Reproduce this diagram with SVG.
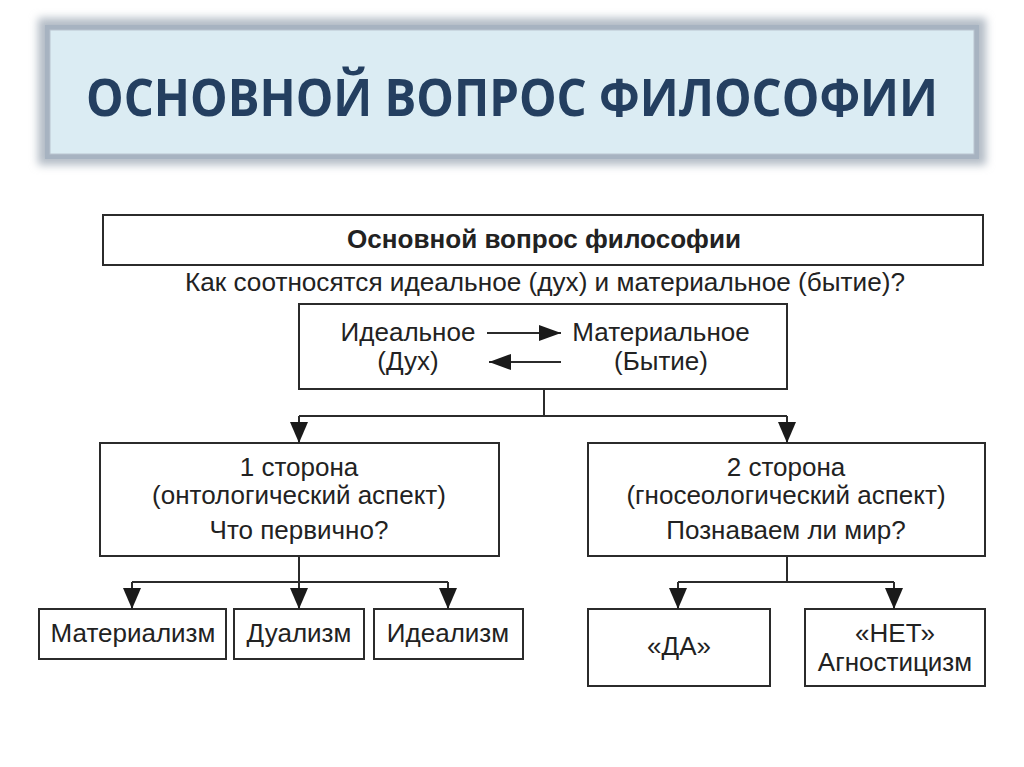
<svg xmlns="http://www.w3.org/2000/svg" width="1024" height="767" viewBox="0 0 1024 767">
<style>
.box{fill:#fff;stroke:#2b2b2b;stroke-width:2}
.t{font-family:"Liberation Sans",Arial,sans-serif;font-size:26px;fill:#222;text-anchor:middle}
.b{font-weight:bold}
.ln{fill:none;stroke:#2b2b2b;stroke-width:2}
</style>
<defs>
<marker id="ah" markerUnits="userSpaceOnUse" markerWidth="22" markerHeight="18" viewBox="0 0 22 18" refX="22" refY="8" orient="auto">
<path d="M0,0 L22,8 L0,16 Z" fill="#1a1a1a"/>
</marker>
<marker id="dn" markerUnits="userSpaceOnUse" markerWidth="22" markerHeight="20" viewBox="0 0 22 20" refX="21" refY="9" orient="auto">
<path d="M0,0 L21,9 L0,18 Z" fill="#1a1a1a"/>
</marker>
<filter id="sh" x="-5%" y="-20%" width="110%" height="140%">
<feGaussianBlur stdDeviation="4"/>
</filter>
</defs>
<rect width="1024" height="767" fill="#fff"/>
<g id="title">
<rect x="38" y="18" width="948" height="147" fill="#b3bcc6" filter="url(#sh)"/>
<rect x="45" y="25" width="934" height="134" fill="#a7b3c1"/>
<rect x="50" y="30" width="924" height="124" fill="#dbecf3" stroke="#b9c4cf" stroke-width="1"/>
<text x="512" y="116" font-family="'Open Sans','Liberation Sans',sans-serif" font-weight="bold" font-size="52" fill="#243f60" text-anchor="middle" textLength="852" lengthAdjust="spacingAndGlyphs">ОСНОВНОЙ ВОПРОС ФИЛОСОФИИ</text>
</g>
<g id="header">
<rect class="box" x="103" y="215" width="880" height="50"/>
<text class="t b" x="544" y="248" font-size="22" textLength="394" lengthAdjust="spacingAndGlyphs">Основной вопрос философии</text>
</g>
<g id="question">
<text class="t" x="545" y="291" font-size="25" textLength="720" lengthAdjust="spacingAndGlyphs">Как соотносятся идеальное (дух) и материальное (бытие)?</text>
</g>
<g id="relation">
<rect class="box" x="299" y="304" width="488" height="85"/>
<text class="t" x="408" y="341" font-size="25">Идеальное</text>
<text class="t" x="408" y="370" font-size="25">(Дух)</text>
<text class="t" x="661" y="341" font-size="25">Материальное</text>
<text class="t" x="661" y="370" font-size="25">(Бытие)</text>
<line class="ln" x1="487" y1="333" x2="561" y2="333" stroke-width="1.5" marker-end="url(#ah)"/>
<line class="ln" x1="561" y1="362" x2="489" y2="362" stroke-width="1.5" marker-end="url(#ah)"/>
</g>
<g id="side1">
<rect class="box" x="100" y="443" width="399" height="113"/>
<text class="t" x="299" y="476">1 сторона</text>
<text class="t" x="299" y="504">(онтологический аспект)</text>
<text class="t" x="299" y="539">Что первично?</text>
</g>
<g id="side2">
<rect class="box" x="588" y="443" width="397" height="113"/>
<text class="t" x="786" y="476">2 сторона</text>
<text class="t" x="786" y="504">(гносеологический аспект)</text>
<text class="t" x="786" y="539">Познаваем ли мир?</text>
</g>
<g id="materialism">
<rect class="box" x="39" y="609" width="187" height="50"/>
<text class="t" x="133" y="642">Материализм</text>
</g>
<g id="dualism">
<rect class="box" x="234" y="609" width="130" height="50"/>
<text class="t" x="299" y="642">Дуализм</text>
</g>
<g id="idealism">
<rect class="box" x="374" y="609" width="149" height="50"/>
<text class="t" x="448" y="642">Идеализм</text>
</g>
<g id="yes">
<rect class="box" x="588" y="609" width="182" height="77"/>
<text class="t" x="679" y="655">«ДА»</text>
</g>
<g id="no">
<rect class="box" x="805" y="609" width="180" height="77"/>
<text class="t" x="895" y="642">«НЕТ»</text>
<text class="t" x="895" y="671">Агностицизм</text>
</g>
<g id="connectors">
<line class="ln" x1="544" y1="389" x2="544" y2="416"/>
<line class="ln" x1="299" y1="416" x2="787" y2="416"/>
<line class="ln" x1="299" y1="416" x2="299" y2="443" marker-end="url(#dn)"/>
<line class="ln" x1="787" y1="416" x2="787" y2="443" marker-end="url(#dn)"/>
<line class="ln" x1="299" y1="556" x2="299" y2="582"/>
<line class="ln" x1="132" y1="582" x2="448" y2="582"/>
<line class="ln" x1="132" y1="582" x2="132" y2="609" marker-end="url(#dn)"/>
<line class="ln" x1="299" y1="582" x2="299" y2="609" marker-end="url(#dn)"/>
<line class="ln" x1="448" y1="582" x2="448" y2="609" marker-end="url(#dn)"/>
<line class="ln" x1="787" y1="556" x2="787" y2="582"/>
<line class="ln" x1="678" y1="582" x2="894" y2="582"/>
<line class="ln" x1="678" y1="582" x2="678" y2="609" marker-end="url(#dn)"/>
<line class="ln" x1="894" y1="582" x2="894" y2="609" marker-end="url(#dn)"/>
</g>
</svg>
